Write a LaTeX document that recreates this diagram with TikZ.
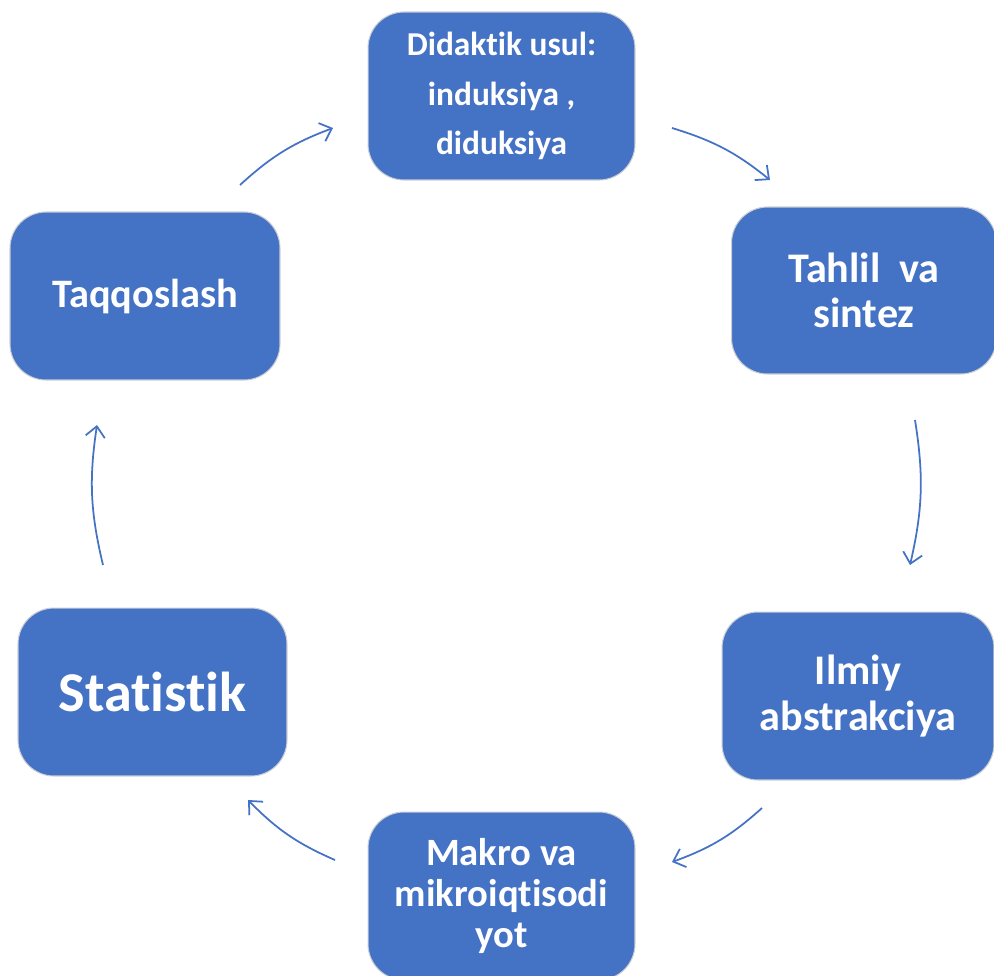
\documentclass[tikz,border=0pt]{standalone}
\usepackage{fontspec}
\setmainfont{Carlito}[Ligatures={NoCommon}]
\usetikzlibrary{arrows.meta}
\definecolor{kasten}{HTML}{4472C4}
\definecolor{rand}{HTML}{C9CDD3}
\begin{document}
\begin{tikzpicture}[x=0.02cm,y=-0.02cm,
	kasten/.style={fill=kasten, draw=rand, line width=0.6pt, rounded corners=0.72cm,
		text=white, font=\bfseries, align=center, inner sep=0pt},
	pfeil/.style={draw=kasten, line width=1pt, bend left=11,
		-{Straight Barb[length=6pt,width=11pt]}}]
		%Rahmen
		\clip (0,0) rectangle (994,975);
		%Kaesten
		\node[kasten, minimum width=5.34cm, minimum height=3.36cm, font=\bfseries\fontsize{19}{28}\selectfont] (didaktik) at (501.5,96) {Didaktik usul:\\induksiya ,\\diduksiya};
		\node[kasten, minimum width=5.3cm, minimum height=3.34cm, font=\bfseries\fontsize{24}{26}\selectfont] (tahlil) at (864,290.5) {Tahlil\ \ va\\sintez};
		\node[kasten, minimum width=5.44cm, minimum height=3.36cm, font=\bfseries\fontsize{24}{26}\selectfont] (ilmiy) at (858,696) {Ilmiy\\abstrakciya};
		\node[kasten, minimum width=5.34cm, minimum height=3.36cm, font=\bfseries\fontsize{22}{23.5}\selectfont] (makro) at (501.5,896) {Makro va\\mikroiqtisodi\\yot};
		\node[kasten, minimum width=5.38cm, minimum height=3.36cm, font=\bfseries\fontsize{32}{34}\selectfont] (statistik) at (152.5,692) {Statistik};
		\node[kasten, minimum width=5.4cm, minimum height=3.36cm, font=\bfseries\fontsize{23}{25}\selectfont] (taqqos) at (145,296) {Taqqoslash};
		%Pfeilenden
		\coordinate (p1a) at (672,128); \coordinate (p1b) at (770,180);
		\coordinate (p2a) at (915,420); \coordinate (p2b) at (910,565);
		\coordinate (p3a) at (762,808); \coordinate (p3b) at (672,862);
		\coordinate (p4a) at (335,860); \coordinate (p4b) at (248,800);
		\coordinate (p5a) at (103,565); \coordinate (p5b) at (97,425);
		\coordinate (p6a) at (240,185); \coordinate (p6b) at (333,128);
		%Pfeile
		\draw[pfeil] (p1a) to (p1b);
		\draw[pfeil] (p2a) to (p2b);
		\draw[pfeil] (p3a) to (p3b);
		\draw[pfeil] (p4a) to (p4b);
		\draw[pfeil] (p5a) to (p5b);
		\draw[pfeil] (p6a) to (p6b);
\end{tikzpicture}
\end{document}
